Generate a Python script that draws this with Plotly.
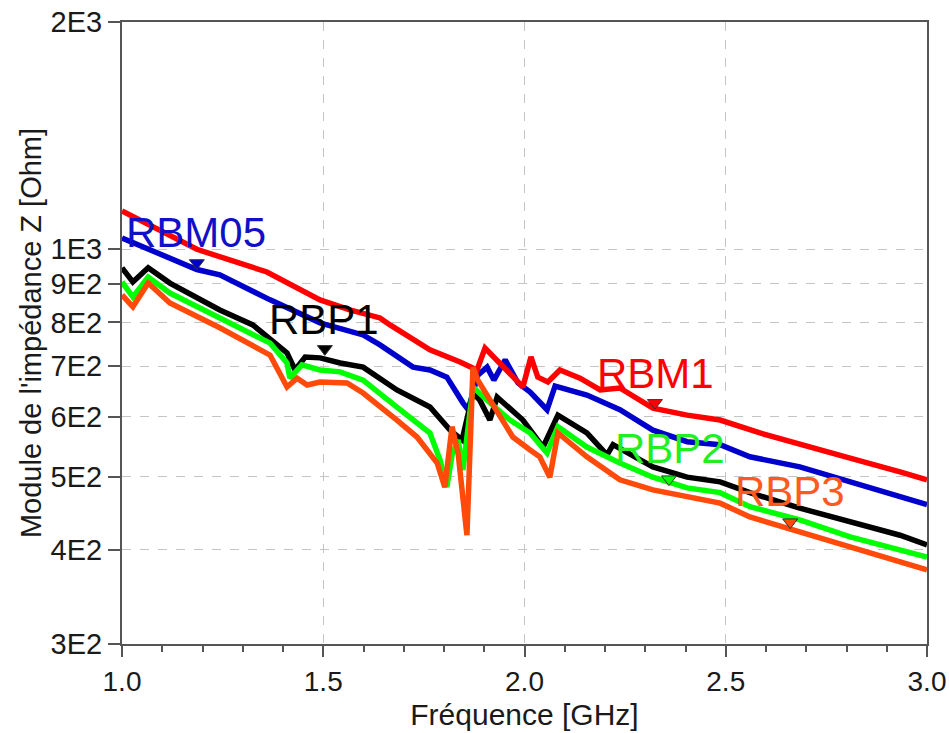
import numpy as np
import plotly.graph_objects as go

# Impedance |Z| (Ohm) versus frequency (GHz)
f_rbm1 = [1.00, 1.094, 1.186, 1.36, 1.492, 1.566, 1.641, 1.666, 1.765, 1.84, 1.865, 1.882, 1.902,
          1.914, 1.971, 1.996, 2.016, 2.033, 2.058, 2.088, 2.138, 2.188, 2.237, 2.319, 2.404,
          2.486, 2.585, 2.684, 2.809, 2.933, 3.00]
z_rbm1 = [1124, 1057, 1000, 933, 857, 831, 811, 794, 736, 709, 698, 692, 740,
          729, 677, 657, 720, 677, 667, 692, 675, 651, 655, 616, 603,
          594, 571, 551, 529, 507, 495]

f_rbm05 = [1.00, 1.119, 1.186, 1.243, 1.368, 1.492, 1.599, 1.641, 1.723, 1.765, 1.807, 1.847, 1.860,
           1.884, 1.907, 1.924, 1.952, 1.984, 2.014, 2.056, 2.076, 2.155, 2.237, 2.319, 2.404,
           2.486, 2.560, 2.684, 2.809, 2.933, 3.00]
z_rbm05 = [1035, 971, 940, 925, 857, 799, 770, 747, 698, 692, 677, 626, 613,
           681, 698, 671, 714, 665, 647, 613, 659, 641, 613, 576, 556,
           551, 531, 515, 492, 470, 459]

f_rbp1 = [1.00, 1.027, 1.065, 1.119, 1.243, 1.325, 1.410, 1.430, 1.455, 1.492, 1.542, 1.599,
          1.683, 1.765, 1.815, 1.845, 1.872, 1.889, 1.914, 1.932, 1.996, 2.046, 2.083, 2.155,
          2.205, 2.220, 2.319, 2.404, 2.486, 2.560, 2.684, 2.809, 2.933, 3.00]
z_rbp1 = [945, 905, 945, 902, 831, 794, 729, 692, 720, 718, 707, 698,
          651, 618, 576, 559, 645, 631, 594, 637, 594, 547, 603, 571,
          534, 551, 515, 499, 492, 476, 454, 435, 418, 406]

f_rbp2 = [1.00, 1.027, 1.065, 1.119, 1.243, 1.368, 1.410, 1.417, 1.447, 1.492, 1.542, 1.599,
          1.683, 1.765, 1.790, 1.807, 1.820, 1.835, 1.847, 1.857, 1.872, 1.907, 1.964, 2.014,
          2.056, 2.083, 2.155, 2.237, 2.319, 2.404, 2.486, 2.560, 2.684, 2.809, 2.933, 3.00]
z_rbp2 = [905, 865, 919, 875, 811, 751, 707, 675, 703, 692, 688, 671,
          618, 571, 526, 484, 534, 559, 510, 559, 657, 631, 594, 571,
          537, 582, 547, 521, 499, 483, 476, 456, 438, 416, 400, 391]

f_rbp3 = [1.00, 1.027, 1.065, 1.119, 1.243, 1.368, 1.410, 1.435, 1.460, 1.492, 1.559, 1.599,
          1.683, 1.733, 1.783, 1.802, 1.820, 1.835, 1.857, 1.872, 1.884, 1.932, 1.971, 2.014,
          2.038, 2.063, 2.083, 2.155, 2.237, 2.319, 2.404, 2.486, 2.560, 2.684, 2.809, 2.933, 3.00]
z_rbp3 = [870, 839, 902, 849, 787, 724, 657, 675, 661, 667, 665, 645,
          594, 564, 521, 484, 582, 537, 418, 698, 671, 607, 564, 542,
          531, 499, 571, 531, 495, 480, 470, 461, 442, 422, 403, 385, 376]

# curve names / colours (drawing order: last on top)
names = ["RBM05", "RBM1", "RBP1", "RBP2", "RBP3"]
freqs = [f_rbm05, f_rbm1, f_rbp1, f_rbp2, f_rbp3]
imps = [z_rbm05, z_rbm1, z_rbp1, z_rbp2, z_rbp3]
colors = ["#0000CC", "#FF0000", "#000000", "#00FF00", "#FF4A0A"]

# marker positions and the labels next to them
marker_f = [1.186, 2.324, 1.504, 2.359, 2.66]
marker_z = [959, 626, 738, 496, 435]
label_f = [1.005, 2.175, 1.36, 2.22, 2.518]
label_z = [1051, 684, 808, 544, 477]
label_colors = ["#1010C8", "#FF0000", "#000000", "#22EE22", "#FF5A1E"]

y_ticks = [300, 400, 500, 600, 700, 800, 900, 1000, 2000]
y_ticktext = ["3E2", "4E2", "5E2", "6E2", "7E2", "8E2", "9E2", "1E3", "2E3"]

FONT = "Liberation Sans, Arial, sans-serif"

fig = go.Figure()
for name, f, z, c in zip(names, freqs, imps, colors):
    fig.add_trace(go.Scatter(x=f, y=z, mode="lines", name=name,
                             line=dict(color=c, width=5.5), showlegend=False))

fig.add_trace(go.Scatter(
    x=marker_f, y=marker_z, mode="markers", showlegend=False,
    marker=dict(symbol="triangle-down", size=13, color=colors,
                line=dict(color="#333333", width=1))))

for txt, fx, zy, c in zip(names, label_f, label_z, label_colors):
    fig.add_annotation(x=fx, y=np.log10(zy), text=txt, showarrow=False,
                       xanchor="left", yanchor="middle",
                       font=dict(family=FONT, size=42, color=c))

fig.update_layout(
    width=949, height=733,
    margin=dict(l=122, r=22, t=22, b=89),
    plot_bgcolor="white", paper_bgcolor="white",
    font=dict(family=FONT, size=28, color="#1a1a1a"),
)
fig.update_xaxes(
    range=[1.0, 3.0], dtick=0.5, tickformat=".1f", automargin=False,
    ticklabeloverflow="allow",
    showgrid=True, gridcolor="#c4c4c4", griddash="dash", gridwidth=1,
    showline=True, linecolor="#555555", linewidth=2, mirror=True,
    ticks="outside", ticklen=11, tickcolor="#555555", tickwidth=1.5,
    minor=dict(dtick=0.1, ticks="outside", ticklen=6, tickcolor="#555555", showgrid=False),
    zeroline=False,
    title=dict(text="Fréquence [GHz]", font=dict(size=30), standoff=8),
    tickfont=dict(size=28),
)
fig.update_yaxes(
    type="log", range=[np.log10(300), np.log10(2000)], automargin=False,
    ticklabeloverflow="allow",
    tickvals=y_ticks, ticktext=y_ticktext,
    showgrid=True, gridcolor="#c4c4c4", griddash="dash", gridwidth=1,
    showline=True, linecolor="#555555", linewidth=2, mirror=True,
    ticks="outside", ticklen=12, tickcolor="#555555", tickwidth=1.5,
    zeroline=False,
    title=dict(text="Module de l'impédance Z [Ohm]", font=dict(size=29), standoff=0),
    tickfont=dict(size=29),
)

# drop the default 8px body margin so the figure fills the window exactly
fig.write_html("out.html", config={"displayModeBar": False},
               post_script="document.body.style.margin='0px';")
